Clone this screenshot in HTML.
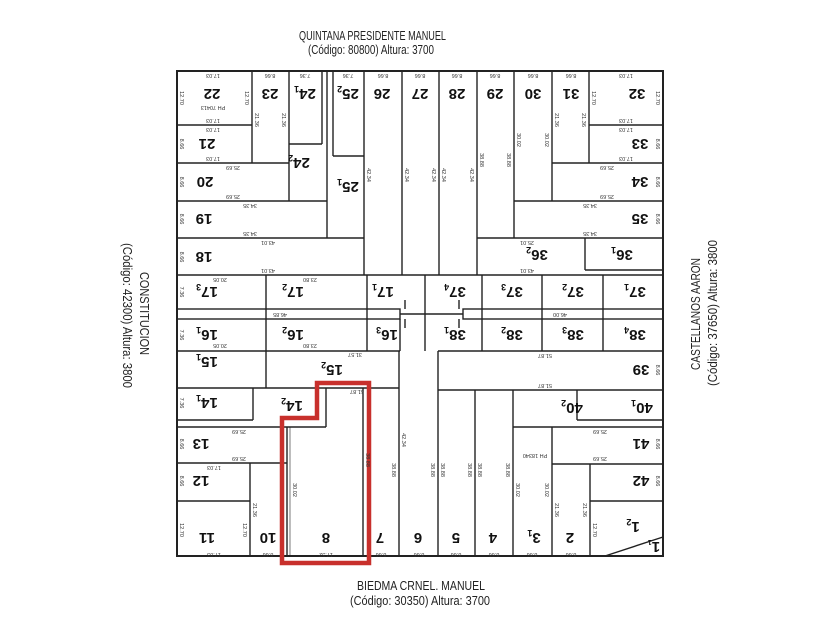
<!DOCTYPE html>
<html><head><meta charset="utf-8"><style>
html,body{margin:0;padding:0;background:#fff;}
svg{display:block;}
.st{font-family:"Liberation Sans Narrow","Liberation Sans",sans-serif;font-size:13px;fill:#222;}
.n{font-family:"Liberation Sans Narrow","Liberation Sans",sans-serif;font-size:15px;font-weight:bold;fill:#111;text-anchor:middle;}
.d{font-family:"Liberation Sans Narrow","Liberation Sans",sans-serif;font-size:5.5px;fill:#333;text-anchor:middle;}
</style></head><body>
<svg width="840" height="630" viewBox="0 0 840 630" xmlns="http://www.w3.org/2000/svg">
<rect width="840" height="630" fill="#fff"/>
<text class="st" x="299" y="40" textLength="147" lengthAdjust="spacingAndGlyphs">QUINTANA PRESIDENTE MANUEL</text>
<text class="st" x="308" y="54" textLength="126" lengthAdjust="spacingAndGlyphs">(Código: 80800) Altura: 3700</text>
<text class="st" x="357" y="590" textLength="128" lengthAdjust="spacingAndGlyphs">BIEDMA CRNEL. MANUEL</text>
<text class="st" x="350" y="605" textLength="140" lengthAdjust="spacingAndGlyphs">(Código: 30350) Altura: 3700</text>
<g transform="translate(140,272) rotate(90)"><text class="st" x="0" y="0" textLength="83" lengthAdjust="spacingAndGlyphs">CONSTITUCION</text></g>
<g transform="translate(123,243) rotate(90)"><text class="st" x="0" y="0" textLength="145" lengthAdjust="spacingAndGlyphs">(Código: 42300) Altura: 3800</text></g>
<g transform="translate(700,370) rotate(-90)"><text class="st" x="0" y="0" textLength="112" lengthAdjust="spacingAndGlyphs">CASTELLANOS AARON</text></g>
<g transform="translate(717,386) rotate(-90)"><text class="st" x="0" y="0" textLength="146" lengthAdjust="spacingAndGlyphs">(Código: 37650) Altura: 3800</text></g>

<g stroke="#222" stroke-width="1.4" fill="none">
<rect x="177" y="71" width="486" height="485" stroke-width="2"/>
<line x1="252" y1="71" x2="252" y2="163"/>
<line x1="177" y1="125" x2="252" y2="125"/>
<line x1="177" y1="163" x2="289" y2="163"/>
<line x1="289" y1="71" x2="289" y2="201"/>
<line x1="289" y1="144" x2="322" y2="144"/>
<line x1="322" y1="71" x2="322" y2="144"/>
<line x1="327" y1="71" x2="327" y2="238"/>
<line x1="333" y1="71" x2="333" y2="156"/>
<line x1="333" y1="156" x2="364" y2="156"/>
<line x1="177" y1="201" x2="327" y2="201"/>
<line x1="177" y1="238" x2="364" y2="238"/>
<line x1="364" y1="71" x2="364" y2="275"/>
<line x1="402" y1="71" x2="402" y2="275"/>
<line x1="439" y1="71" x2="439" y2="275"/>
<line x1="477" y1="71" x2="477" y2="275"/>
<line x1="514" y1="71" x2="514" y2="238"/>
<line x1="552" y1="71" x2="552" y2="201"/>
<line x1="589" y1="71" x2="589" y2="163"/>
<line x1="589" y1="125" x2="663" y2="125"/>
<line x1="552" y1="163" x2="663" y2="163"/>
<line x1="514" y1="201" x2="663" y2="201"/>
<line x1="477" y1="238" x2="663" y2="238"/>
<line x1="585" y1="238" x2="585" y2="270"/>
<line x1="585" y1="270" x2="663" y2="270"/>
<line x1="177" y1="275" x2="663" y2="275"/>
<line x1="266" y1="275" x2="266" y2="388"/>
<line x1="367" y1="275" x2="367" y2="351"/>
<line x1="425" y1="275" x2="425" y2="351"/>
<line x1="482" y1="275" x2="482" y2="351"/>
<line x1="542" y1="275" x2="542" y2="351"/>
<line x1="603" y1="275" x2="603" y2="351"/>
<rect x="177" y="309" width="223" height="10"/>
<rect x="463" y="309" width="200" height="10"/>
<line x1="400" y1="314" x2="463" y2="314"/>
<line x1="400" y1="319" x2="400" y2="351"/>
<line x1="405" y1="300" x2="405" y2="309"/>
<line x1="405" y1="319" x2="405" y2="328"/>
<line x1="459" y1="300" x2="459" y2="309"/>
<line x1="459" y1="319" x2="459" y2="328"/>
<line x1="177" y1="351" x2="400" y2="351"/>
<line x1="438" y1="351" x2="663" y2="351"/>
<line x1="177" y1="388" x2="399" y2="388"/>
<line x1="399" y1="351" x2="399" y2="556"/>
<line x1="253" y1="388" x2="253" y2="420"/>
<line x1="177" y1="420" x2="253" y2="420"/>
<line x1="177" y1="427" x2="326" y2="427"/>
<line x1="326" y1="388" x2="326" y2="427"/>
<line x1="287" y1="427" x2="287" y2="556"/>
<line x1="290" y1="427" x2="290" y2="556" stroke-width="0.6"/>
<line x1="363" y1="388" x2="363" y2="556"/>
<line x1="177" y1="463" x2="287" y2="463"/>
<line x1="250" y1="463" x2="250" y2="556"/>
<line x1="177" y1="501" x2="250" y2="501"/>
<line x1="438" y1="351" x2="438" y2="556"/>
<line x1="438" y1="390" x2="663" y2="390"/>
<line x1="475" y1="390" x2="475" y2="556"/>
<line x1="513" y1="390" x2="513" y2="556"/>
<line x1="577" y1="390" x2="577" y2="420"/>
<line x1="577" y1="420" x2="663" y2="420"/>
<line x1="513" y1="427" x2="663" y2="427"/>
<line x1="552" y1="427" x2="552" y2="556"/>
<line x1="552" y1="464" x2="663" y2="464"/>
<line x1="590" y1="464" x2="590" y2="556"/>
<line x1="590" y1="501" x2="663" y2="501"/>
<line x1="605" y1="556" x2="663" y2="537"/>
</g>
<polygon points="317,383 369,383 369,563 282,563 282,418 317,418" fill="none" stroke="#c8302c" stroke-width="4.5"/>

<g>
<text class="n" transform="rotate(180 212 94)" x="212" y="99">22</text>
<text class="n" transform="rotate(180 270 94)" x="270" y="99">23</text>
<text class="n" transform="rotate(180 305 94)" x="305" y="99">24<tspan font-size="9" dy="3">1</tspan></text>
<text class="n" transform="rotate(180 348 94)" x="348" y="99">25<tspan font-size="9" dy="3">2</tspan></text>
<text class="n" transform="rotate(180 382 94)" x="382" y="99">26</text>
<text class="n" transform="rotate(180 420 94)" x="420" y="99">27</text>
<text class="n" transform="rotate(180 457 94)" x="457" y="99">28</text>
<text class="n" transform="rotate(180 495 94)" x="495" y="99">29</text>
<text class="n" transform="rotate(180 533 94)" x="533" y="99">30</text>
<text class="n" transform="rotate(180 571 94)" x="571" y="99">31</text>
<text class="n" transform="rotate(180 637 94)" x="637" y="99">32</text>
<text class="n" transform="rotate(180 207 144)" x="207" y="149">21</text>
<text class="n" transform="rotate(180 640 144)" x="640" y="149">33</text>
<text class="n" transform="rotate(180 299 163)" x="299" y="168">24<tspan font-size="9" dy="3">2</tspan></text>
<text class="n" transform="rotate(180 205 182)" x="205" y="187">20</text>
<text class="n" transform="rotate(180 348 187)" x="348" y="192">25<tspan font-size="9" dy="3">1</tspan></text>
<text class="n" transform="rotate(180 640 182)" x="640" y="187">34</text>
<text class="n" transform="rotate(180 204 219)" x="204" y="224">19</text>
<text class="n" transform="rotate(180 640 219)" x="640" y="224">35</text>
<text class="n" transform="rotate(180 204 257)" x="204" y="262">18</text>
<text class="n" transform="rotate(180 537 255)" x="537" y="260">36<tspan font-size="9" dy="3">2</tspan></text>
<text class="n" transform="rotate(180 622 255)" x="622" y="260">36<tspan font-size="9" dy="3">1</tspan></text>
<text class="n" transform="rotate(180 207 292)" x="207" y="297">17<tspan font-size="9" dy="3">3</tspan></text>
<text class="n" transform="rotate(180 293 292)" x="293" y="297">17<tspan font-size="9" dy="3">2</tspan></text>
<text class="n" transform="rotate(180 383 292)" x="383" y="297">17<tspan font-size="9" dy="3">1</tspan></text>
<text class="n" transform="rotate(180 455 292)" x="455" y="297">37<tspan font-size="9" dy="3">4</tspan></text>
<text class="n" transform="rotate(180 512 292)" x="512" y="297">37<tspan font-size="9" dy="3">3</tspan></text>
<text class="n" transform="rotate(180 573 292)" x="573" y="297">37<tspan font-size="9" dy="3">2</tspan></text>
<text class="n" transform="rotate(180 635 292)" x="635" y="297">37<tspan font-size="9" dy="3">1</tspan></text>
<text class="n" transform="rotate(180 207 335)" x="207" y="340">16<tspan font-size="9" dy="3">1</tspan></text>
<text class="n" transform="rotate(180 293 335)" x="293" y="340">16<tspan font-size="9" dy="3">2</tspan></text>
<text class="n" transform="rotate(180 387 335)" x="387" y="340">16<tspan font-size="9" dy="3">3</tspan></text>
<text class="n" transform="rotate(180 455 335)" x="455" y="340">38<tspan font-size="9" dy="3">1</tspan></text>
<text class="n" transform="rotate(180 512 335)" x="512" y="340">38<tspan font-size="9" dy="3">2</tspan></text>
<text class="n" transform="rotate(180 573 335)" x="573" y="340">38<tspan font-size="9" dy="3">3</tspan></text>
<text class="n" transform="rotate(180 635 335)" x="635" y="340">38<tspan font-size="9" dy="3">4</tspan></text>
<text class="n" transform="rotate(180 207 362)" x="207" y="367">15<tspan font-size="9" dy="3">1</tspan></text>
<text class="n" transform="rotate(180 332 370)" x="332" y="375">15<tspan font-size="9" dy="3">2</tspan></text>
<text class="n" transform="rotate(180 641 370)" x="641" y="375">39</text>
<text class="n" transform="rotate(180 207 403)" x="207" y="408">14<tspan font-size="9" dy="3">1</tspan></text>
<text class="n" transform="rotate(180 292 406)" x="292" y="411">14<tspan font-size="9" dy="3">2</tspan></text>
<text class="n" transform="rotate(180 572 408)" x="572" y="413">40<tspan font-size="9" dy="3">2</tspan></text>
<text class="n" transform="rotate(180 642 408)" x="642" y="413">40<tspan font-size="9" dy="3">1</tspan></text>
<text class="n" transform="rotate(180 201 444)" x="201" y="449">13</text>
<text class="n" transform="rotate(180 641 444)" x="641" y="449">41</text>
<text class="n" transform="rotate(180 201 481)" x="201" y="486">12</text>
<text class="n" transform="rotate(180 641 481)" x="641" y="486">42</text>
<text class="n" transform="rotate(180 207 538)" x="207" y="543">11</text>
<text class="n" transform="rotate(180 268 538)" x="268" y="543">10</text>
<text class="n" transform="rotate(180 326 538)" x="326" y="543">8</text>
<text class="n" transform="rotate(180 380 538)" x="380" y="543">7</text>
<text class="n" transform="rotate(180 418 538)" x="418" y="543">6</text>
<text class="n" transform="rotate(180 456 538)" x="456" y="543">5</text>
<text class="n" transform="rotate(180 493 538)" x="493" y="543">4</text>
<text class="n" transform="rotate(180 534 538)" x="534" y="543">3<tspan font-size="9" dy="3">1</tspan></text>
<text class="n" transform="rotate(180 570 538)" x="570" y="543">2</text>
<text class="n" transform="rotate(180 633 527)" x="633" y="532">1<tspan font-size="9" dy="3">2</tspan></text>
<text class="n" transform="rotate(180 654 546)" x="654" y="550" font-size="11">1<tspan font-size="7" dy="2">1</tspan></text>
</g>

<g>
<text class="d" transform="rotate(180 213 76)" x="213" y="78">17.03</text>
<text class="d" transform="rotate(180 270 76)" x="270" y="78">8.66</text>
<text class="d" transform="rotate(180 305 76)" x="305" y="78">7.36</text>
<text class="d" transform="rotate(180 348 76)" x="348" y="78">7.36</text>
<text class="d" transform="rotate(180 383 76)" x="383" y="78">8.66</text>
<text class="d" transform="rotate(180 420 76)" x="420" y="78">8.66</text>
<text class="d" transform="rotate(180 457 76)" x="457" y="78">8.66</text>
<text class="d" transform="rotate(180 495 76)" x="495" y="78">8.66</text>
<text class="d" transform="rotate(180 533 76)" x="533" y="78">8.66</text>
<text class="d" transform="rotate(180 571 76)" x="571" y="78">8.66</text>
<text class="d" transform="rotate(180 626 76)" x="626" y="78">17.03</text>
<text class="d" transform="rotate(180 213 108)" x="213" y="110">PH 70413</text>
<text class="d" transform="rotate(180 535 456)" x="535" y="458">PH 18340</text>
<text class="d" transform="rotate(180 213 121)" x="213" y="123">17.03</text>
<text class="d" transform="rotate(180 213 130)" x="213" y="132">17.03</text>
<text class="d" transform="rotate(180 213 159)" x="213" y="161">17.03</text>
<text class="d" transform="rotate(180 626 121)" x="626" y="123">17.03</text>
<text class="d" transform="rotate(180 626 130)" x="626" y="132">17.03</text>
<text class="d" transform="rotate(180 626 159)" x="626" y="161">17.03</text>
<text class="d" transform="rotate(180 233 168)" x="233" y="170">25.69</text>
<text class="d" transform="rotate(180 233 197)" x="233" y="199">25.69</text>
<text class="d" transform="rotate(180 607 168)" x="607" y="170">25.69</text>
<text class="d" transform="rotate(180 607 197)" x="607" y="199">25.69</text>
<text class="d" transform="rotate(180 250 206)" x="250" y="208">34.35</text>
<text class="d" transform="rotate(180 250 234)" x="250" y="236">34.35</text>
<text class="d" transform="rotate(180 590 206)" x="590" y="208">34.35</text>
<text class="d" transform="rotate(180 590 234)" x="590" y="236">34.35</text>
<text class="d" transform="rotate(180 268 243)" x="268" y="245">43.01</text>
<text class="d" transform="rotate(180 268 271)" x="268" y="273">43.01</text>
<text class="d" transform="rotate(180 527 243)" x="527" y="245">25.01</text>
<text class="d" transform="rotate(180 527 271)" x="527" y="273">43.01</text>
<text class="d" transform="rotate(180 220 280)" x="220" y="282">20.05</text>
<text class="d" transform="rotate(180 310 280)" x="310" y="282">23.80</text>
<text class="d" transform="rotate(180 220 346)" x="220" y="348">20.05</text>
<text class="d" transform="rotate(180 310 346)" x="310" y="348">23.80</text>
<text class="d" transform="rotate(180 280 315)" x="280" y="317">46.85</text>
<text class="d" transform="rotate(180 560 315)" x="560" y="317">46.00</text>
<text class="d" transform="rotate(180 355 355)" x="355" y="357">31.57</text>
<text class="d" transform="rotate(180 545 356)" x="545" y="358">51.87</text>
<text class="d" transform="rotate(180 545 386)" x="545" y="388">51.87</text>
<text class="d" transform="rotate(180 357 392)" x="357" y="394">51.87</text>
<text class="d" transform="rotate(180 214 468)" x="214" y="470">17.03</text>
<text class="d" transform="rotate(180 214 553)" x="214" y="553">17.03</text>
<text class="d" transform="rotate(180 326 553)" x="326" y="553">17.32</text>
<text class="d" transform="rotate(180 381 553)" x="381" y="553">8.66</text>
<text class="d" transform="rotate(180 419 553)" x="419" y="553">8.66</text>
<text class="d" transform="rotate(180 456 553)" x="456" y="553">8.66</text>
<text class="d" transform="rotate(180 494 553)" x="494" y="553">8.66</text>
<text class="d" transform="rotate(180 532 553)" x="532" y="553">8.66</text>
<text class="d" transform="rotate(180 571 553)" x="571" y="553">8.66</text>
<text class="d" transform="rotate(180 268 553)" x="268" y="553">8.66</text>
<text class="d" transform="rotate(180 239 432)" x="239" y="434">25.69</text>
<text class="d" transform="rotate(180 239 459)" x="239" y="461">25.69</text>
<text class="d" transform="rotate(180 600 432)" x="600" y="434">25.69</text>
<text class="d" transform="rotate(180 600 459)" x="600" y="461">25.69</text>
<!-- vertical labels -->
<text class="d" transform="rotate(90 369 175)" x="369" y="177">42.34</text>
<text class="d" transform="rotate(90 407 175)" x="407" y="177">42.34</text>
<text class="d" transform="rotate(90 434 175)" x="434" y="177">42.34</text>
<text class="d" transform="rotate(90 444 175)" x="444" y="177">42.34</text>
<text class="d" transform="rotate(90 472 175)" x="472" y="177">42.34</text>
<text class="d" transform="rotate(90 482 160)" x="482" y="162">38.88</text>
<text class="d" transform="rotate(90 509 160)" x="509" y="162">38.88</text>
<text class="d" transform="rotate(90 519 140)" x="519" y="142">30.02</text>
<text class="d" transform="rotate(90 547 140)" x="547" y="142">30.02</text>
<text class="d" transform="rotate(90 557 120)" x="557" y="122">21.36</text>
<text class="d" transform="rotate(90 584 120)" x="584" y="122">21.36</text>
<text class="d" transform="rotate(90 257 120)" x="257" y="122">21.36</text>
<text class="d" transform="rotate(90 284 120)" x="284" y="122">21.36</text>
<text class="d" transform="rotate(90 182 98)" x="182" y="100">12.70</text>
<text class="d" transform="rotate(90 247 98)" x="247" y="100">12.70</text>
<text class="d" transform="rotate(90 594 98)" x="594" y="100">12.70</text>
<text class="d" transform="rotate(90 658 98)" x="658" y="100">12.70</text>
<text class="d" transform="rotate(90 182 144)" x="182" y="146">8.66</text>
<text class="d" transform="rotate(90 182 182)" x="182" y="184">8.66</text>
<text class="d" transform="rotate(90 182 219)" x="182" y="221">8.66</text>
<text class="d" transform="rotate(90 182 257)" x="182" y="259">8.66</text>
<text class="d" transform="rotate(90 658 144)" x="658" y="146">8.66</text>
<text class="d" transform="rotate(90 658 182)" x="658" y="184">8.66</text>
<text class="d" transform="rotate(90 658 219)" x="658" y="221">8.66</text>
<text class="d" transform="rotate(90 658 370)" x="658" y="372">8.66</text>
<text class="d" transform="rotate(90 658 444)" x="658" y="446">8.66</text>
<text class="d" transform="rotate(90 658 481)" x="658" y="483">8.66</text>
<text class="d" transform="rotate(90 182 444)" x="182" y="446">8.66</text>
<text class="d" transform="rotate(90 182 481)" x="182" y="483">8.66</text>
<text class="d" transform="rotate(90 182 530)" x="182" y="532">12.70</text>
<text class="d" transform="rotate(90 182 292)" x="182" y="294">7.36</text>
<text class="d" transform="rotate(90 182 335)" x="182" y="337">7.36</text>
<text class="d" transform="rotate(90 182 403)" x="182" y="405">7.36</text>
<text class="d" transform="rotate(90 368 470)" x="358" y="472">38.88</text>
<text class="d" transform="rotate(90 394 470)" x="394" y="472">38.88</text>
<text class="d" transform="rotate(90 404 440)" x="404" y="442">42.34</text>
<text class="d" transform="rotate(90 433 470)" x="433" y="472">38.88</text>
<text class="d" transform="rotate(90 443 470)" x="443" y="472">38.88</text>
<text class="d" transform="rotate(90 470 470)" x="470" y="472">38.88</text>
<text class="d" transform="rotate(90 480 470)" x="480" y="472">38.88</text>
<text class="d" transform="rotate(90 508 470)" x="508" y="472">38.88</text>
<text class="d" transform="rotate(90 518 490)" x="518" y="492">30.02</text>
<text class="d" transform="rotate(90 547 490)" x="547" y="492">30.02</text>
<text class="d" transform="rotate(90 295 490)" x="295" y="492">30.02</text>
<text class="d" transform="rotate(90 557 510)" x="557" y="512">21.36</text>
<text class="d" transform="rotate(90 585 510)" x="585" y="512">21.36</text>
<text class="d" transform="rotate(90 255 510)" x="255" y="512">21.36</text>
<text class="d" transform="rotate(90 245 530)" x="245" y="532">12.70</text>
<text class="d" transform="rotate(90 595 530)" x="595" y="532">12.70</text>
</g>
</svg>
</body></html>
